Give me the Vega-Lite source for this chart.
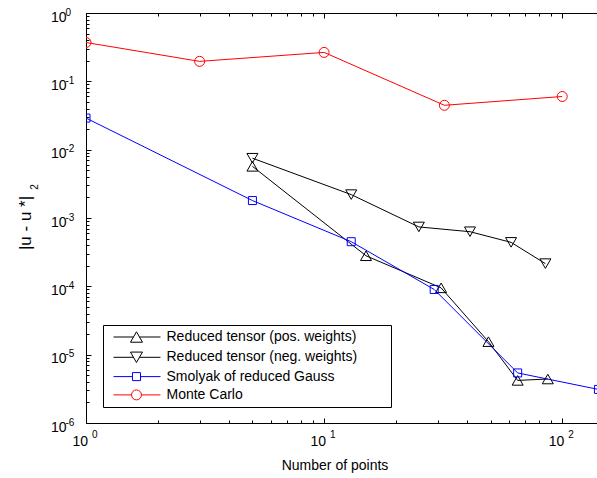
{
  "$schema": "https://vega.github.io/schema/vega-lite/v6.json",
  "width": 511,
  "height": 410,
  "autosize": "none",
  "padding": {"left": 86, "top": 13, "right": 0, "bottom": 55},
  "background": "white",
  "config": {"view": {"stroke": null}, "font": "Liberation Sans"},
  "data": {"values": [
    {"series": "Reduced tensor (pos. weights)", "n": 5, "err": 0.0057},
    {"series": "Reduced tensor (pos. weights)", "n": 15, "err": 0.00028},
    {"series": "Reduced tensor (pos. weights)", "n": 31, "err": 0.000095},
    {"series": "Reduced tensor (pos. weights)", "n": 49, "err": 0.0000155},
    {"series": "Reduced tensor (pos. weights)", "n": 65, "err": 0.0000042},
    {"series": "Reduced tensor (pos. weights)", "n": 87, "err": 0.0000044},
    {"series": "Reduced tensor (neg. weights)", "n": 5, "err": 0.0075},
    {"series": "Reduced tensor (neg. weights)", "n": 13, "err": 0.0022},
    {"series": "Reduced tensor (neg. weights)", "n": 25, "err": 0.00074},
    {"series": "Reduced tensor (neg. weights)", "n": 41, "err": 0.00063},
    {"series": "Reduced tensor (neg. weights)", "n": 61, "err": 0.00044},
    {"series": "Reduced tensor (neg. weights)", "n": 85, "err": 0.000215},
    {"series": "Smolyak of reduced Gauss", "n": 1, "err": 0.029},
    {"series": "Smolyak of reduced Gauss", "n": 5, "err": 0.0018},
    {"series": "Smolyak of reduced Gauss", "n": 13, "err": 0.00045},
    {"series": "Smolyak of reduced Gauss", "n": 29, "err": 0.00009},
    {"series": "Smolyak of reduced Gauss", "n": 65, "err": 0.0000054},
    {"series": "Smolyak of reduced Gauss", "n": 142, "err": 0.0000031},
    {"series": "Monte Carlo", "n": 1, "err": 0.37},
    {"series": "Monte Carlo", "n": 3, "err": 0.196},
    {"series": "Monte Carlo", "n": 10, "err": 0.265},
    {"series": "Monte Carlo", "n": 32, "err": 0.0446},
    {"series": "Monte Carlo", "n": 100, "err": 0.06}
  ]},
  "layer": [
    {
      "transform": [{"filter": "false"}],
      "mark": {"type": "point", "filled": false, "strokeWidth": 1, "opacity": 1, "size": 144},
      "encoding": {
        "x": {"field": "n", "type": "quantitative", "scale": {"type": "log", "domain": [1, 140], "nice": false}, "axis": null},
        "y": {"field": "err", "type": "quantitative", "scale": {"type": "log", "domain": [0.000001, 1], "nice": false}, "axis": null},
        "color": {
          "field": "series", "type": "nominal",
          "scale": {
            "domain": ["Reduced tensor (pos. weights)", "Reduced tensor (neg. weights)", "Smolyak of reduced Gauss", "Monte Carlo"],
            "range": ["#000000", "#000000", "#0000ff", "#ff0000"]
          },
          "legend": {
            "orient": "none", "legendX": 17, "legendY": 312,
            "title": "\u00a0", "titleOrient": "right", "titlePadding": 29, "titleFontSize": 14,
            "padding": 5, "cornerRadius": 0,
            "strokeColor": "#000", "fillColor": "#fff",
            "labelFont": "Liberation Sans", "labelFontSize": 14, "labelColor": "#000", "labelLimit": 0,
            "labelOffset": 40, "rowPadding": 4.3,
            "symbolSize": 144, "symbolStrokeWidth": 1, "symbolOffset": 4.5, "symbolOpacity": 1
          }
        },
        "shape": {
          "field": "series", "type": "nominal",
          "scale": {
            "domain": ["Reduced tensor (pos. weights)", "Reduced tensor (neg. weights)", "Smolyak of reduced Gauss", "Monte Carlo"],
            "range": [
              "M-1,0H2.33M3.33,0H6.83M2.83,-0.87L3.83,0.87L1.83,0.87Z",
              "M-1,0H2.33M3.33,0H6.83M2.83,0.87L3.83,-0.87L1.83,-0.87Z",
              "M-1,0H2.16M3.5,0H6.83M2.16,-0.67H3.5V0.67H2.16Z",
              "M-1,0H2M3.66,0H6.83M3.66,0A0.83,0.83,0,1,1,2,0A0.83,0.83,0,1,1,3.66,0"
            ]
          },
          "legend": {
            "orient": "none", "legendX": 17, "legendY": 312,
            "title": "\u00a0", "titleOrient": "right", "titlePadding": 29, "titleFontSize": 14,
            "padding": 5, "cornerRadius": 0,
            "strokeColor": "#000", "fillColor": "#fff",
            "labelFont": "Liberation Sans", "labelFontSize": 14, "labelColor": "#000", "labelLimit": 0,
            "labelOffset": 40, "rowPadding": 4.3,
            "symbolSize": 144, "symbolStrokeWidth": 1, "symbolOffset": 4.5, "symbolOpacity": 1
          }
        }
      }
    },
    {
      "mark": {"type": "line", "strokeWidth": 1, "clip": true},
      "encoding": {
        "x": {
          "field": "n", "type": "quantitative",
          "scale": {"type": "log", "domain": [1, 140], "nice": false},
          "axis": {
            "orient": "bottom",
            "values": [1,2,3,4,5,6,7,8,9,10,20,30,40,50,60,70,80,90,100],
            "tickSize": {"condition": {"test": "abs(log(datum.value)/LN10 - round(log(datum.value)/LN10)) < 1e-6", "value": -5}, "value": -3},
            "tickColor": "#000", "tickWidth": 1,
            "domainColor": "#000", "domainWidth": 1,
            "grid": false,
            "labelExpr": "(abs(log(datum.value)/LN10 - round(log(datum.value)/LN10)) < 1e-6) ? '10' : ''",
            "labelFlush": false, "labelOverlap": false,
            "labelAlign": "right", "labelOffset": 1.5, "labelBaseline": "top",
            "labelFont": "Liberation Sans", "labelFontSize": 14, "labelColor": "#000", "labelPadding": 16,
            "title": "Number of points",
            "titleFont": "Liberation Sans", "titleFontSize": 14, "titleFontWeight": "normal", "titleColor": "#000",
            "titleX": 248.5, "titleY": 46.5, "titleBaseline": "alphabetic", "titleAlign": "center"
          }
        },
        "y": {
          "field": "err", "type": "quantitative",
          "scale": {"type": "log", "domain": [0.000001, 1], "nice": false},
          "axis": {
            "orient": "left",
            "values": [0.000001,0.000002,0.000003,0.000004,0.000005,0.000006,0.000007,0.000008,0.000009,
                       0.00001,0.00002,0.00003,0.00004,0.00005,0.00006,0.00007,0.00008,0.00009,
                       0.0001,0.0002,0.0003,0.0004,0.0005,0.0006,0.0007,0.0008,0.0009,
                       0.001,0.002,0.003,0.004,0.005,0.006,0.007,0.008,0.009,
                       0.01,0.02,0.03,0.04,0.05,0.06,0.07,0.08,0.09,
                       0.1,0.2,0.3,0.4,0.5,0.6,0.7,0.8,0.9,1],
            "tickSize": {"condition": {"test": "abs(log(datum.value)/LN10 - round(log(datum.value)/LN10)) < 1e-6", "value": -5}, "value": -3},
            "tickColor": "#000", "tickWidth": 1,
            "domainColor": "#000", "domainWidth": 1,
            "grid": false,
            "labelExpr": "(abs(log(datum.value)/LN10 - round(log(datum.value)/LN10)) < 1e-6) ? '10' : ''",
            "labelFlush": false, "labelOverlap": false,
            "labelAlign": "right", "labelBaseline": "middle", "labelOffset": 4,
            "labelPadding": 25,
            "labelFont": "Liberation Sans", "labelFontSize": 14, "labelColor": "#000",
            "title": "|u - u *|",
            "titleFont": "Liberation Sans", "titleFontSize": 17, "titleFontWeight": "normal", "titleColor": "#000",
            "titleX": -55.5, "titleY": 209.5, "titleBaseline": "alphabetic", "titleAlign": "center", "titleAngle": -90
          }
        },
        "color": {"field": "series", "type": "nominal"}
      }
    },
    {
      "transform": [{"filter": "datum.series === 'Reduced tensor (pos. weights)'"}],
      "mark": {"type": "point", "shape": "triangle-up", "filled": false, "strokeWidth": 1, "opacity": 1, "size": 121, "clip": true},
      "encoding": {
        "x": {
          "field": "n", "type": "quantitative",
          "scale": {"type": "log", "domain": [1, 140], "nice": false},
          "axis": {
            "orient": "bottom",
            "values": [1, 10, 100],
            "ticks": false, "domain": false, "grid": false,
            "labelExpr": "['0','1','2'][round(log(datum.value)/LN10)]",
            "labelFlush": false, "labelOverlap": false,
            "labelAlign": "left", "labelOffset": 5.5, "labelBaseline": "top",
            "labelFont": "Liberation Sans", "labelFontSize": 10, "labelColor": "#000", "labelPadding": 6,
            "title": null
          }
        },
        "y": {
          "field": "err", "type": "quantitative",
          "scale": {"type": "log", "domain": [0.000001, 1], "nice": false},
          "axis": {
            "orient": "left",
            "values": [0.000001, 0.00001, 0.0001, 0.001, 0.01, 0.1, 1],
            "ticks": false, "domain": false, "grid": false,
            "labelExpr": "['-6','-5','-4','-3','-2','-1','\u00a00'][round(log(datum.value)/LN10)+6]",
            "labelFlush": false, "labelOverlap": false,
            "labelAlign": "left", "labelBaseline": "middle", "labelOffset": -1,
            "labelPadding": 21,
            "labelFont": "Liberation Sans", "labelFontSize": 10, "labelColor": "#000",
            "title": "2",
            "titleFont": "Liberation Sans", "titleFontSize": 10, "titleFontWeight": "normal", "titleColor": "#000",
            "titleX": -48.5, "titleY": 173.5, "titleBaseline": "alphabetic", "titleAlign": "center", "titleAngle": -90
          }
        },
        "color": {"field": "series", "type": "nominal"}
      }
    },
    {
      "transform": [{"filter": "datum.series === 'Reduced tensor (neg. weights)'"}],
      "mark": {"type": "point", "shape": "triangle-down", "filled": false, "strokeWidth": 1, "opacity": 1, "size": 121, "clip": true},
      "encoding": {
        "x": {
          "field": "n", "type": "quantitative",
          "scale": {"type": "log", "domain": [1, 140], "nice": false},
          "axis": {
            "orient": "top",
            "values": [1,2,3,4,5,6,7,8,9,10,20,30,40,50,60,70,80,90,100],
            "tickSize": {"condition": {"test": "abs(log(datum.value)/LN10 - round(log(datum.value)/LN10)) < 1e-6", "value": -5}, "value": -3},
            "tickColor": "#000", "tickWidth": 1,
            "domainColor": "#000", "domainWidth": 1,
            "grid": false, "labels": false, "title": null
          }
        },
        "y": {
          "field": "err", "type": "quantitative",
          "scale": {"type": "log", "domain": [0.000001, 1], "nice": false},
          "axis": null
        },
        "color": {"field": "series", "type": "nominal"}
      }
    },
    {
      "transform": [{"filter": "datum.series === 'Smolyak of reduced Gauss'"}],
      "mark": {"type": "point", "shape": "square", "filled": false, "strokeWidth": 1, "opacity": 1, "size": 64, "clip": true},
      "encoding": {
        "x": {"field": "n", "type": "quantitative", "scale": {"type": "log", "domain": [1, 140], "nice": false}, "axis": null},
        "y": {"field": "err", "type": "quantitative", "scale": {"type": "log", "domain": [0.000001, 1], "nice": false}, "axis": null},
        "color": {"field": "series", "type": "nominal"}
      }
    },
    {
      "transform": [{"filter": "datum.series === 'Monte Carlo'"}],
      "mark": {"type": "point", "shape": "circle", "filled": false, "strokeWidth": 1, "opacity": 1, "size": 100, "clip": true},
      "encoding": {
        "x": {"field": "n", "type": "quantitative", "scale": {"type": "log", "domain": [1, 140], "nice": false}, "axis": null},
        "y": {"field": "err", "type": "quantitative", "scale": {"type": "log", "domain": [0.000001, 1], "nice": false}, "axis": null},
        "color": {"field": "series", "type": "nominal"}
      }
    }
  ],
  "resolve": {"axis": {"x": "independent", "y": "independent"}}
}
